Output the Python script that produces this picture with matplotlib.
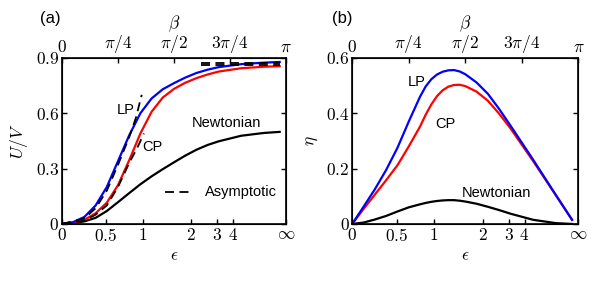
import numpy as np
import matplotlib
matplotlib.use("Agg")
import matplotlib.pyplot as plt

plt.rcParams['mathtext.fontset'] = 'cm'
plt.rcParams['font.family'] = ['Liberation Sans', 'DejaVu Sans']

# beta / pi at which the curves of panel (a) were read
f_a = [0, 0.05, 0.1, 0.15, 0.2, 0.25, 0.3, 0.35, 0.4, 0.45, 0.5,
       0.55, 0.6, 0.65, 0.7, 0.8, 0.9, 0.972]

# panel (a): U/V
uv_lp = [0, 0.01, 0.038, 0.1, 0.2, 0.34, 0.48, 0.60, 0.68, 0.73, 0.763,
         0.793, 0.818, 0.836, 0.85, 0.866, 0.874, 0.878]
uv_cp = [0, 0.006, 0.022, 0.058, 0.115, 0.21, 0.345, 0.49, 0.608, 0.685, 0.732,
         0.765, 0.79, 0.81, 0.826, 0.844, 0.852, 0.855]
uv_newt = [0, 0.004, 0.014, 0.033, 0.07, 0.118, 0.167, 0.215, 0.258, 0.297, 0.334,
           0.37, 0.402, 0.428, 0.448, 0.478, 0.493, 0.499]

# asymptotic (dashed) pieces
asym_lp_f = [0, 0.1, 0.15, 0.2, 0.25, 0.3, 0.33, 0.356]
asym_lp = [0, 0.03, 0.085, 0.18, 0.32, 0.47, 0.575, 0.70]
asym_cp_f = [0, 0.1, 0.15, 0.2, 0.25, 0.3, 0.335, 0.366]
asym_cp = [0, 0.018, 0.05, 0.1, 0.2, 0.33, 0.41, 0.49]
asym_hi_f = [0.62, 0.972]
asym_hi_lp = 0.874
asym_hi_cp = 0.860

# beta / pi for panel (b)
f_b = [0, 0.05, 0.1, 0.15, 0.2, 0.25, 0.3, 0.325, 0.35, 0.375, 0.4, 0.425,
       0.45, 0.475, 0.5, 0.55, 0.6, 0.65, 0.7, 0.8, 0.9, 0.972]

# panel (b): efficiency
eta_lp = [0, 0.062, 0.125, 0.195, 0.275, 0.37, 0.46, 0.497, 0.523, 0.54, 0.55, 0.555,
          0.556, 0.551, 0.541, 0.511, 0.47, 0.415, 0.355, 0.232, 0.105, 0.015]
eta_cp = [0, 0.054, 0.106, 0.158, 0.212, 0.28, 0.352, 0.395, 0.432, 0.462, 0.483, 0.496,
          0.502, 0.503, 0.498, 0.478, 0.445, 0.398, 0.345, 0.227, 0.104, 0.015]
eta_newt = [0, 0.005, 0.016, 0.029, 0.045, 0.06, 0.071, 0.076, 0.08, 0.083, 0.085, 0.086,
            0.086, 0.084, 0.081, 0.073, 0.062, 0.05, 0.037, 0.015, 0.003, 0.0]

eps_ticks = [0, 0.5, 1, 2, 3, 4]
eps_labels = ['$0$', '$0.5$', '$1$', '$2$', '$3$', '$4$', r'$\infty$']
beta_labels = ['$0$', r'$\pi/4$', r'$\pi/2$', r'$3\pi/4$', r'$\pi$']

FS_TICK = 12.5
FS_TXT = 10.5


def eps_to_beta(e):
    return 2 * np.arctan(2 * np.asarray(e) / np.pi)


def style_axes(ax, yticks, ylab):
    ax.set_xlim(0, np.pi)
    ax.set_ylim(yticks[0], yticks[-1])
    ax.set_xticks(list(eps_to_beta(eps_ticks)) + [np.pi])
    ax.set_xticklabels(eps_labels)
    ax.set_yticks(yticks)
    ax.set_yticklabels(['$%g$' % v for v in yticks])
    ax.tick_params(direction='in', length=3.5, width=1, labelsize=FS_TICK,
                   right=True, pad=2)
    ax.set_xlabel(r'$\epsilon$', fontsize=FS_TICK, labelpad=3)
    ax.set_ylabel(ylab, fontsize=FS_TICK, labelpad=4)
    for s in ax.spines.values():
        s.set_linewidth(1.2)
    top = ax.twiny()
    top.set_xlim(0, np.pi)
    top.set_xticks(np.array([0, 0.25, 0.5, 0.75, 1]) * np.pi)
    top.set_xticklabels(beta_labels)
    top.tick_params(direction='in', length=3.5, width=1, labelsize=FS_TICK, pad=2)
    top.set_xlabel(r'$\beta$', fontsize=FS_TICK, labelpad=3.5)
    return top


fig = plt.figure(figsize=(6, 2.81), dpi=100)
ax1 = fig.add_axes([0.1033, 0.203, 0.3733, 0.591])
ax2 = fig.add_axes([0.587, 0.203, 0.377, 0.591])

xa = np.array(f_a) * np.pi
xb = np.array(f_b) * np.pi
dash = dict(color='k', ls='--', lw=1.3, dashes=(5, 3))

ax1.plot(xa, uv_newt, color='k', lw=1.6)
ax1.plot(xa, uv_cp, color='r', lw=1.6)
ax1.plot(xa, uv_lp, color='b', lw=1.6)
ax1.plot(np.array(asym_lp_f) * np.pi, asym_lp, **dash)
ax1.plot(np.array(asym_cp_f) * np.pi, asym_cp, **dash)
ax1.plot(np.array(asym_hi_f) * np.pi, [asym_hi_lp] * 2, **dash)
ax1.plot(np.array(asym_hi_f) * np.pi, [asym_hi_cp] * 2, **dash)
style_axes(ax1, [0, 0.3, 0.6, 0.9], '$U/V$')
ax1.text(0.283 * np.pi, 0.618, 'LP', fontsize=FS_TXT, ha='center', va='center')
ax1.text(0.402 * np.pi, 0.419, 'CP', fontsize=FS_TXT, ha='center', va='center')
ax1.text(0.735 * np.pi, 0.546, 'Newtonian', fontsize=FS_TXT, ha='center', va='center')
ax1.plot([0.46 * np.pi, 0.575 * np.pi], [0.175, 0.175], **dash)
ax1.text(0.64 * np.pi, 0.175, 'Asymptotic', fontsize=FS_TXT, va='center')

ax2.plot(xb, eta_newt, color='k', lw=1.6)
ax2.plot(xb, eta_cp, color='r', lw=1.6)
ax2.plot(xb, eta_lp, color='b', lw=1.6)
style_axes(ax2, [0, 0.2, 0.4, 0.6], r'$\eta$')
ax2.text(0.283 * np.pi, 0.514, 'LP', fontsize=FS_TXT, ha='center', va='center')
ax2.text(0.411 * np.pi, 0.361, 'CP', fontsize=FS_TXT, ha='center', va='center')
ax2.text(0.637 * np.pi, 0.113, 'Newtonian', fontsize=FS_TXT, ha='center', va='center')

fig.text(50 / 600, 1 - 18 / 281, '(a)', fontsize=12, ha='center', va='center')
fig.text(342 / 600, 1 - 18 / 281, '(b)', fontsize=12, ha='center', va='center')

fig.savefig('out.png', dpi=100)
